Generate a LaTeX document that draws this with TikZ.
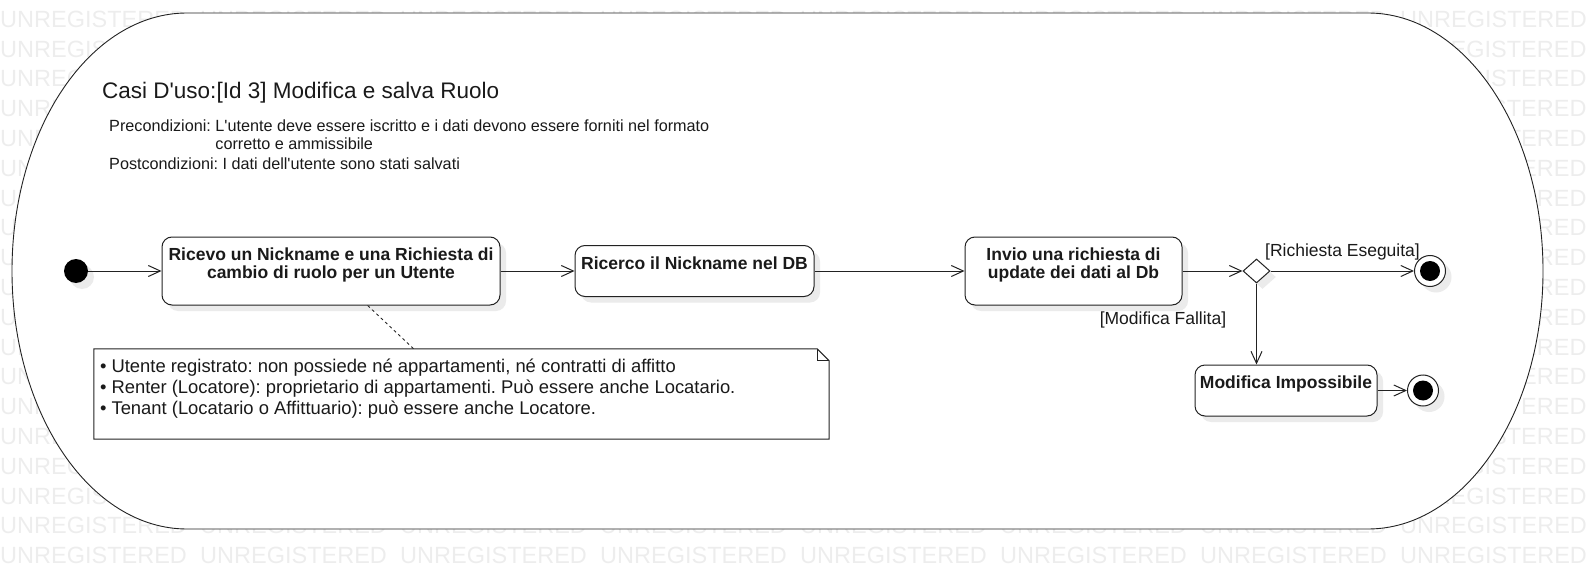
\documentclass[tikz,border=0pt]{standalone}
\usepackage{fontspec}
\setmainfont{Liberation Sans}[Ligatures=TeXOff]
\usetikzlibrary{arrows.meta,shadows,shapes.geometric,positioning}
\frenchspacing

\definecolor{linec}{HTML}{222222}
\definecolor{textc}{HTML}{1A1A1A}
\definecolor{markc}{HTML}{EDEDED}
\definecolor{shadc}{HTML}{EBEBEB}

\tikzset{
  shadowed/.style={drop shadow={shadow xshift=6pt, shadow yshift=-6pt, fill=shadc, opacity=1}},
  act/.style={draw=linec, line width=1pt, rounded corners=10pt, fill=white, inner sep=0pt, shadowed},
  acttext/.style={font=\bfseries\fontsize{17.5}{18}\selectfont, text=textc, align=center,
    anchor=north, inner sep=0pt, yshift=-11.3pt},
  flow/.style={draw=linec, line width=1pt, -{Straight Barb[length=12pt,width=11pt]}},
  guard/.style={font=\fontsize{17.5}{20}\selectfont, text=textc, inner sep=0pt},
  cond/.style={font=\fontsize{16.2}{17.3}\selectfont, text=textc, align=left, inner sep=0pt},
  notetext/.style={font=\fontsize{18.4}{20.7}\selectfont, text=textc, align=left,
    anchor=north west, inner sep=0pt, xshift=6pt, yshift=-10.3pt},
  startnode/.style={circle, fill=black, minimum size=24pt, inner sep=0pt, shadowed},
  endnode/.style={circle, draw=linec, line width=1pt, fill=white, minimum size=31pt, inner sep=0pt, shadowed,
    path picture={\fill[black] (path picture bounding box.center) circle (10pt);}},
  decision/.style={diamond, draw=linec, line width=1pt, fill=white, minimum width=27pt,
    minimum height=24pt, inner sep=0pt, shadowed},
  watermark/.style={font=\fontsize{23.5}{24}\selectfont, text=markc, inner sep=0pt, anchor=west},
}

\begin{document}
\begin{tikzpicture}[x=1pt, y=-1pt]
  \useasboundingbox (0,0) rectangle (1592,580);
  %% background watermark: full rows, then the parts left and right of the frame
  \foreach \k in {0,17,18} {
    \foreach \j in {0,...,7} {
      \node[watermark] (wm-\k-\j) at (200*\j, 19.3+29.8*\k) {UNREGISTERED}; } }
  \foreach \k/\lt/\rt in {1/UNREGIST/REGISTERED, 2/UNREG/GISTERED, 3/UNRE/STERED, 4/UNR/TERED,
      5/UN/ERED, 6/UN/ERED, 7/UN/ERED, 8/UN/ERED, 9/UN/ERED, 10/UN/ERED, 11/UN/ERED,
      12/UN/ERED, 13/UNR/TERED, 14/UNRE/STERED, 15/UNREG/GISTERED, 16/UNREGIST/REGISTERED} {
    \node[watermark] (wml-\k) at (0, 19.3+29.8*\k) {\lt};
    \node[watermark, anchor=east] (wmr-\k) at (1586.7, 19.3+29.8*\k) {\rt}; }
  %% frame of the activity
  \draw[draw=linec, line width=0.9pt, fill=white] (187,13) -- (1368,13)
    arc[start angle=90, end angle=-90, x radius=175pt, y radius=258pt] -- (187,529)
    arc[start angle=270, end angle=90, x radius=175pt, y radius=258pt] -- cycle;
  %% header
  \node[anchor=base west, font=\fontsize{22.5}{26}\selectfont, text=textc, inner sep=0pt]
    (titolo) at (102,98.4) {Casi D'uso:[Id 3] Modifica e salva Ruolo};
  \node[cond, anchor=north west] (pre) at (109,120)
    {Precondizioni: L'utente deve essere iscritto e i dati devono essere forniti nel formato\\
     \phantom{Precondizioni: }corretto e ammissibile};
  \node[cond, anchor=base west] (post) at (109,169.3)
    {Postcondizioni: I dati dell'utente sono stati salvati};
  %% main flow
  \node[startnode] (inizio) at (76,271) {};
  \node[act, minimum width=338pt, minimum height=68pt,
    label={[acttext]north:{Ricevo un Nickname e una Richiesta di\\cambio di ruolo per un Utente}}]
    (ricevo) at (331,271) {};
  \node[act, minimum width=239pt, minimum height=51pt,
    label={[acttext]north:{Ricerco il Nickname nel DB}}] (ricerco) at (694.5,271) {};
  \node[act, minimum width=217pt, minimum height=68pt,
    label={[acttext]north:{Invio una richiesta di\\update dei dati al Db}}] (invio) at (1073.5,271) {};
  \node[decision] (scelta) at (1256.5,271) {};
  \node[endnode] (fine) at (1430,271) {};
  \node[act, minimum width=182pt, minimum height=51pt,
    label={[acttext]north:{Modifica Impossibile}}] (impossibile) at (1286,390.5) {};
  \node[endnode] (fineko) at (1423,390.5) {};
  \node[guard] (ok) at (1342.5,252) {[Richiesta Eseguita]};
  \node[guard] (ko) at (1163,320) {[Modifica Fallita]};
  \draw[flow] (inizio) -- (ricevo);
  \draw[flow] (ricevo) -- (ricerco);
  \draw[flow] (ricerco) -- (invio);
  \draw[flow] (invio) -- (scelta);
  \draw[flow] (scelta) -- (fine);
  \draw[flow] (scelta.south) -- (scelta.south |- impossibile.north);
  \draw[flow] (impossibile) -- (fineko);
  %% note on the roles
  \node[minimum width=735pt, minimum height=90pt, inner sep=0pt,
    label={[notetext]north west:{%
      • Utente registrato: non possiede né appartamenti, né contratti di affitto\\
      • Renter (Locatore): proprietario di appartamenti. Può essere anche Locatario.\\
      • Tenant (Locatario o Affittuario): può essere anche Locatore.}}]
    (nota) at (461.5,394) {};
  \draw[draw=linec, line width=1pt] (nota.north west) -- ([xshift=-12pt]nota.north east)
    -- ([yshift=-12pt]nota.north east) -- (nota.south east) -- (nota.south west) -- cycle;
  \draw[draw=linec, line width=1pt] ([xshift=-12pt]nota.north east)
    -- ([xshift=-12pt,yshift=-12pt]nota.north east) -- ([yshift=-12pt]nota.north east);
  \draw[draw=linec, line width=0.8pt, dash pattern=on 3pt off 3pt] (ricevo) -- (nota);
\end{tikzpicture}
\end{document}
